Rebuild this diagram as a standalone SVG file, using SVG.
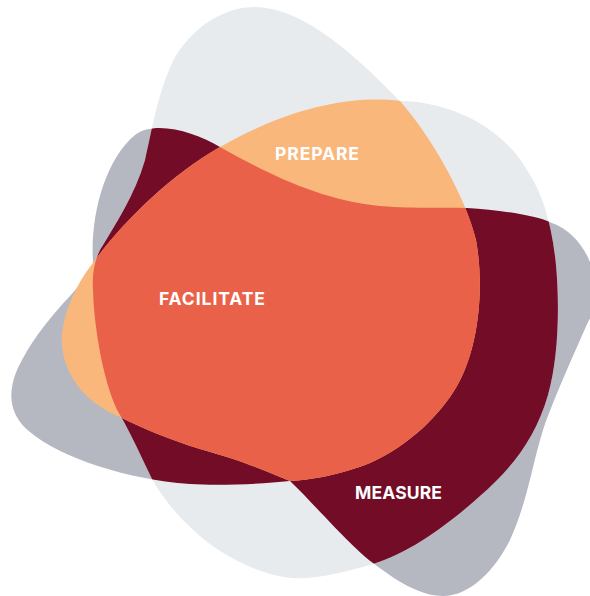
<svg xmlns="http://www.w3.org/2000/svg" width="590" height="596" viewBox="0 0 590 596">
  <defs>
    <!-- outer grey blob -->
    <path id="blobG" d="M 93,263 C 90,215 105,160 135,135 C 155,120 195,132 220,147 C 270,175 320,200 380,206 C 420,209 440,207 467,208 C 500,210 535,215 552,223 C 572,230 588,250 593,272 C 598,292 596,308 588,322 C 578,345 555,395 543,430 C 532,465 528,500 510,540 C 495,570 470,596 443,596 C 420,596 395,580 373,563 C 350,546 315,505 290,481 C 260,484 220,486 190,484 C 130,480 60,458 30,432 C 5,412 8,385 22,360 C 35,335 55,312 70,296 C 80,284 90,276 93,263 Z"/>
    <!-- pale blob -->
    <path id="blobL" d="M 255,7 C 300,8 345,45 400,101 C 440,101 500,120 530,175 C 543,195 552,225 556,265 C 560,310 558,360 548,395 C 535,440 510,470 480,496 C 450,523 410,553 373,564 C 345,572 315,580 290,578 C 255,574 215,552 190,527 C 172,510 160,493 152,479 C 143,460 130,432 120,415 C 105,390 94,330 93,290 C 92,275 94,262 100,250 C 115,225 135,195 145,160 C 152,130 158,90 175,57 C 195,25 225,7 255,7 Z"/>
    <!-- orange blob -->
    <path id="blobO" d="M 93,263 C 120,225 170,175 220,147 C 250,130 300,105 360,100 C 380,99 395,100 400,101 C 430,135 465,195 476,240 C 485,290 478,350 457,386 C 440,415 410,445 370,463 C 340,475 310,480 290,481 C 275,475 250,463 200,449 C 170,440 140,427 120,417 C 90,405 65,380 62,345 C 60,320 75,285 93,263 Z"/>
    <clipPath id="clipG"><use href="#blobG"/></clipPath>
    <clipPath id="clipL"><use href="#blobL"/></clipPath>
    <style>
      .label { font-family: Inter, "Open Sans", "Liberation Sans", sans-serif; font-weight: 700; font-size: 17.5px; fill: #ffffff; text-anchor: middle; }
    </style>
  </defs>

  <g id="shapes">
    <use href="#blobG" fill="#b5b8c1"/>
    <use href="#blobL" fill="#e8ebee"/>
    <!-- overlap of the two grey blobs -->
    <g clip-path="url(#clipL)">
      <use href="#blobG" fill="#730c27"/>
    </g>
    <use href="#blobO" fill="#f9b77c"/>
    <!-- orange blob where it overlaps both grey blobs -->
    <g clip-path="url(#clipL)">
      <g clip-path="url(#clipG)">
        <use href="#blobO" fill="#e96148"/>
      </g>
    </g>
  </g>

  <g id="prepare">
    <text class="label" x="317" y="160" textLength="84" lengthAdjust="spacing">PREPARE</text>
  </g>
  <g id="facilitate">
    <text class="label" x="212" y="305" textLength="106" lengthAdjust="spacing">FACILITATE</text>
  </g>
  <g id="measure">
    <text class="label" x="398.5" y="499" textLength="87" lengthAdjust="spacing">MEASURE</text>
  </g>
</svg>
